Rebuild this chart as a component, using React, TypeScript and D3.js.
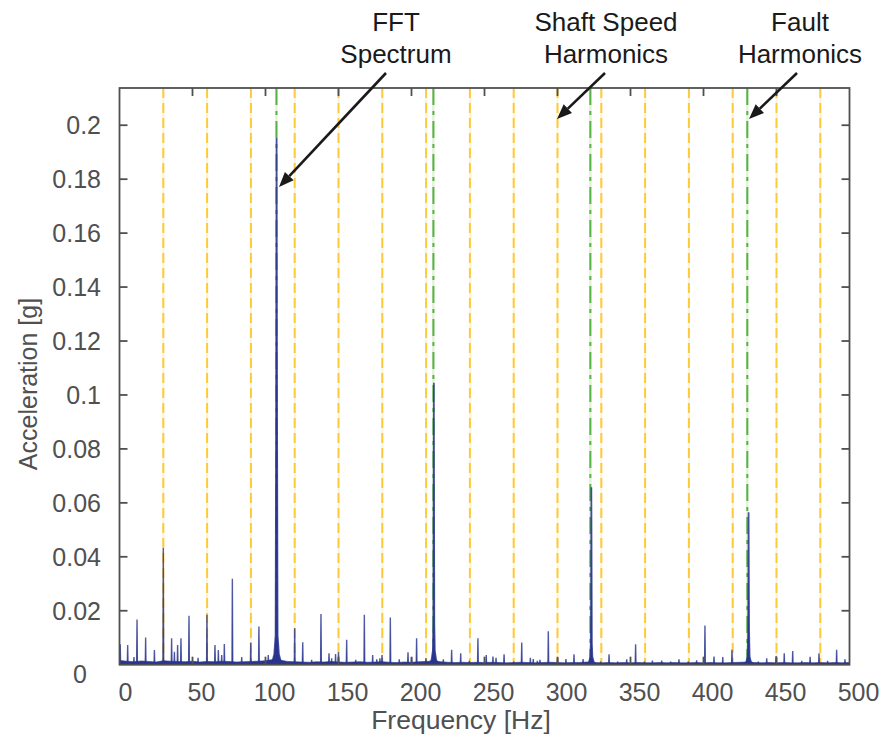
import React from "react";
import * as d3 from "d3";

// ---- data ----
const xTicks = [0, 50, 100, 150, 200, 250, 300, 350, 400, 450, 500];
const yTicks = [0, 0.02, 0.04, 0.06, 0.08, 0.1, 0.12, 0.14, 0.16, 0.18, 0.2];
const yTickLabels = ["0", "0.02", "0.04", "0.06", "0.08", "0.1", "0.12", "0.14", "0.16", "0.18", "0.2"];

const shaftHarmonicFreqs = [30, 60, 90, 120, 150, 180, 210, 240, 270, 300, 330, 360, 390, 420, 450, 480];
const faultHarmonicFreqs = [107.5, 215, 322.5, 430];

// dominant fault peaks
const faultPeakFreqs = [107.6, 215.3, 323.2, 430.9];
const faultPeakAmps = [0.1953, 0.1045, 0.0658, 0.0565];
const faultShoulderAmps = [0.091, 0.015, 0.008, 0.012];
const faultSkirtAmps = [0.011, 0.005, 0.003, 0.003];

// smaller spectral lines [Hz]
const peakFreqs = [
  0.5, 5.6, 9.9, 12.0, 17.9, 23.9, 30.0, 35.7, 37.6, 39.8, 42.1, 47.6, 53.8, 59.9, 65.4, 67.7, 70.0, 71.8,
  77.3, 83.7, 89.9, 95.5, 101.9, 120.0, 125.5, 131.6, 138.0, 143.5, 145.3, 148.0, 150.0, 155.6, 161.8,
  167.7, 173.4, 176.2, 178.4, 179.8, 185.5, 191.6, 197.6, 200.1, 203.5, 209.9, 221.8, 227.5, 233.7,
  239.6, 245.5, 251.2, 255.8, 257.9, 263.4, 270.0, 275.5, 281.4, 283.4, 286.2, 288.0, 293.7, 300.1,
  305.8, 311.3, 317.5, 329.5, 335.3, 341.2, 347.4, 353.5, 359.5, 365.0, 371.4, 377.5, 383.2, 389.5,
  395.3, 401.0, 407.2, 413.2, 419.5, 437.5, 443.3, 449.7, 455.3, 461.1, 467.3, 473.0, 479.1, 485.0,
  491.2, 496.9,
];
// their amplitudes [g]
const peakAmps = [
  0.0076, 0.0073, 0.0028, 0.0168, 0.0101, 0.0054, 0.0433, 0.0098, 0.0048, 0.0073, 0.0098, 0.0181, 0.0026,
  0.0185, 0.0073, 0.0054, 0.0036, 0.0077, 0.0319, 0.0028, 0.0082, 0.0142, 0.0036, 0.0135, 0.0083, 0.0018,
  0.0188, 0.0042, 0.0024, 0.004, 0.0046, 0.0092, 0.0018, 0.0185, 0.0036, 0.002, 0.0024, 0.0036, 0.0175,
  0.002, 0.0046, 0.0028, 0.0098, 0.0024, 0.002, 0.0055, 0.0042, 0.0014, 0.0098, 0.0036, 0.003, 0.0026,
  0.0039, 0.0012, 0.0082, 0.0026, 0.0021, 0.0014, 0.0018, 0.0124, 0.0026, 0.0021, 0.0039, 0.0021, 0.0012,
  0.0039, 0.0012, 0.002, 0.0076, 0.0012, 0.0015, 0.0015, 0.0012, 0.002, 0.0012, 0.0016, 0.0145, 0.003,
  0.0028, 0.0055, 0.0012, 0.0024, 0.0032, 0.0042, 0.0051, 0.0014, 0.0029, 0.0042, 0.0014, 0.0055, 0.002,
];

// noise floor, one value every 5 Hz from 0 to 500 Hz
const floorFreqs = [
  0, 5, 10, 15, 20, 25, 30, 35, 40, 45, 50, 55, 60, 65, 70, 75, 80, 85, 90, 95, 100, 105, 110, 115, 120, 125,
  130, 135, 140, 145, 150, 155, 160, 165, 170, 175, 180, 185, 190, 195, 200, 205, 210, 215, 220, 225, 230,
  235, 240, 245, 250, 255, 260, 265, 270, 275, 280, 285, 290, 295, 300, 305, 310, 315, 320, 325, 330, 335,
  340, 345, 350, 355, 360, 365, 370, 375, 380, 385, 390, 395, 400, 405, 410, 415, 420, 425, 430, 435, 440,
  445, 450, 455, 460, 465, 470, 475, 480, 485, 490, 495, 500,
];
const floorAmps = [
  0.0016, 0.0013, 0.0011, 0.0014, 0.0012, 0.001, 0.0015, 0.0013, 0.0012, 0.0011, 0.0013, 0.001, 0.0012,
  0.0011, 0.0013, 0.0012, 0.001, 0.0011, 0.0012, 0.0013, 0.0015, 0.0019, 0.0017, 0.0012, 0.0011, 0.001,
  0.0009, 0.0011, 0.001, 0.0012, 0.001, 0.0009, 0.001, 0.0011, 0.0009, 0.001, 0.0011, 0.0009, 0.0008,
  0.001, 0.0009, 0.0011, 0.0012, 0.0014, 0.0011, 0.0009, 0.0008, 0.0009, 0.0008, 0.0009, 0.0008, 0.0009,
  0.0008, 0.0007, 0.0008, 0.0009, 0.0008, 0.0007, 0.0008, 0.0009, 0.0008, 0.0007, 0.0008, 0.0008, 0.001,
  0.0008, 0.0007, 0.0008, 0.0007, 0.0008, 0.0007, 0.0008, 0.0007, 0.0007, 0.0008, 0.0007, 0.0008, 0.0007,
  0.0007, 0.0008, 0.0007, 0.0008, 0.0007, 0.0007, 0.0008, 0.0009, 0.001, 0.0008, 0.0007, 0.0008, 0.0007,
  0.0008, 0.0007, 0.0007, 0.0008, 0.0007, 0.0008, 0.0007, 0.0008, 0.0007, 0.0008,
];

const annotationLines = [
  ["FFT", "Spectrum"],
  ["Shaft Speed", "Harmonics"],
  ["Fault", "Harmonics"],
];

// ---- chart ----
const W = 885;
const H = 742;
const left = 119.5;
const right = 849.5;
const top = 88;
const bottom = 664.7;

const FONT = "'Liberation Sans', Arial, Helvetica, sans-serif";
const BLUE = "#28348f";
const AXIS = "#505050";

export default function App() {
  const x = d3.scaleLinear().domain([0, 500]).range([left, right]);
  const y = d3.scaleLinear().domain([0, 0.2138]).range([bottom, top]);

  const floorArea = d3
    .area<number>()
    .x((_, i) => x(floorFreqs[i]))
    .y0(y(0))
    .y1((d) => y(d))
    .curve(d3.curveLinear)(floorAmps) as string;

  const spike = (f: number, a: number, w: number) =>
    d3.line()([
      [x(f - w), y(0)],
      [x(f), y(a)],
      [x(f + w), y(0)],
    ]) as string;

  const faultShape = (i: number) => {
    const f = faultPeakFreqs[i];
    const pts: [number, number][] = [
      [x(f - 3.5), y(0)],
      [x(f - 1.6), y(faultSkirtAmps[i] * 0.35)],
      [x(f - 0.7), y(faultSkirtAmps[i])],
      [x(f - 0.35), y(faultShoulderAmps[i])],
      [x(f), y(faultPeakAmps[i])],
      [x(f + 0.35), y(faultShoulderAmps[i])],
      [x(f + 0.7), y(faultSkirtAmps[i])],
      [x(f + 1.6), y(faultSkirtAmps[i] * 0.35)],
      [x(f + 3.5), y(0)],
    ];
    return d3.line()(pts) as string;
  };

  // arrows: [tail, head] in data coordinates
  const arrowTails: [number, number][] = [
    [x.invert(386), y.invert(73)],
    [x.invert(605), y.invert(73)],
    [x.invert(797), y.invert(73)],
  ];
  const arrowHeads: [number, number][] = [
    [x.invert(279), y.invert(187)],
    [x.invert(557), y.invert(119)],
    [x.invert(749), y.invert(119)],
  ];
  const annotationCenters = [396, 606, 800];

  const arrow = (t: [number, number], h: [number, number], key: number) => {
    const x1 = x(t[0]);
    const y1 = y(t[1]);
    const x2 = x(h[0]);
    const y2 = y(h[1]);
    const ang = Math.atan2(y2 - y1, x2 - x1);
    const L = 15;
    const Wd = 6;
    const bx = x2 - L * Math.cos(ang);
    const by = y2 - L * Math.sin(ang);
    const px = -Math.sin(ang) * Wd;
    const py = Math.cos(ang) * Wd;
    return (
      <g key={key}>
        <line x1={x1} y1={y1} x2={bx} y2={by} stroke="#1a1a1a" strokeWidth={2.6} />
        <path d={`M${x2},${y2}L${bx + px},${by + py}L${bx - px},${by - py}Z`} fill="#1a1a1a" />
      </g>
    );
  };

  return (
    <svg
      width={W}
      height={H}
      viewBox={`0 0 ${W} ${H}`}
      style={{ position: "absolute", left: 0, top: 0, background: "#fff" }}
    >
      <rect x={0} y={0} width={W} height={H} fill="#fff" />

      {/* shaft speed harmonics */}
      {shaftHarmonicFreqs.map((f, i) => (
        <g key={"s" + i}>
          <line x1={x(f)} x2={x(f)} y1={top} y2={bottom} stroke="#fff5d6" strokeWidth={2} />
          <line
            x1={x(f)}
            x2={x(f)}
            y1={top}
            y2={bottom}
            stroke="#ffc93c"
            strokeWidth={2}
            strokeDasharray="10,5"
          />
        </g>
      ))}
      {/* fault harmonics */}
      {faultHarmonicFreqs.map((f, i) => (
        <g key={"f" + i}>
          <line x1={x(f)} x2={x(f)} y1={top} y2={bottom} stroke="#e4f1d8" strokeWidth={2.4} />
          <line
            x1={x(f)}
            x2={x(f)}
            y1={top}
            y2={bottom}
            stroke="#55b444"
            strokeWidth={2}
            strokeDasharray="17,6,4,6"
          />
        </g>
      ))}

      {/* spectrum */}
      <path d={floorArea} fill={BLUE} stroke={BLUE} strokeWidth={0.6} />
      {peakFreqs.map((f, i) => (
        <path key={"p" + i} d={spike(f, peakAmps[i], 0.25)} fill={BLUE} stroke={BLUE} strokeWidth={1.4} strokeOpacity={0.8} />
      ))}
      {faultPeakFreqs.map((f, i) => (
        <path key={"fp" + i} d={faultShape(i)} fill={BLUE} stroke={BLUE} strokeWidth={1.7} strokeOpacity={0.85} />
      ))}

      {/* axes box */}
      <rect x={left} y={top} width={right - left} height={bottom - top} fill="none" stroke={AXIS} strokeWidth={1.8} />
      {xTicks.slice(1, -1).map((v, i) => (
        <g key={"xt" + i}>
          <line x1={x(v)} x2={x(v)} y1={bottom} y2={bottom - 8} stroke={AXIS} strokeWidth={1.8} />
          <line x1={x(v)} x2={x(v)} y1={top} y2={top + 8} stroke={AXIS} strokeWidth={1.8} />
        </g>
      ))}
      {yTicks.slice(1).map((v, i) => (
        <g key={"yt" + i}>
          <line x1={left} x2={left + 8} y1={y(v)} y2={y(v)} stroke={AXIS} strokeWidth={1.8} />
          <line x1={right} x2={right - 8} y1={y(v)} y2={y(v)} stroke={AXIS} strokeWidth={1.8} />
        </g>
      ))}

      {/* tick labels */}
      {xTicks.map((v, i) => (
        <text
          key={"xl" + i}
          x={x(v) + (v === 0 ? 6 : 9)}
          y={701}
          textAnchor="middle"
          fontFamily={FONT}
          fontSize={25}
          fill={AXIS}
        >
          {v}
        </text>
      ))}
      {yTicks.map((v, i) =>
        v === 0 ? (
          <text key={"yl" + i} x={80} y={y(v) + 18} textAnchor="middle" fontFamily={FONT} fontSize={25} fill={AXIS}>
            {yTickLabels[i]}
          </text>
        ) : (
          <text key={"yl" + i} x={101} y={y(v) + 9} textAnchor="end" fontFamily={FONT} fontSize={25} fill={AXIS}>
            {yTickLabels[i]}
          </text>
        )
      )}

      {/* axis titles */}
      <text x={461} y={729} textAnchor="middle" fontFamily={FONT} fontSize={26.5} fill={AXIS}>
        Frequency [Hz]
      </text>
      <text
        transform={`translate(37,384) rotate(-90)`}
        textAnchor="middle"
        fontFamily={FONT}
        fontSize={25}
        fill={AXIS}
      >
        Acceleration [g]
      </text>

      {/* annotations */}
      {annotationLines.map((lines, i) => (
        <g key={"a" + i}>
          {lines.map((s, j) => (
            <text
              key={j}
              x={annotationCenters[i]}
              y={31 + j * 32}
              textAnchor="middle"
              fontFamily={FONT}
              fontSize={26}
              fill="#1a1a1a"
            >
              {s}
            </text>
          ))}
        </g>
      ))}
      {arrowTails.map((t, i) => arrow(t, arrowHeads[i], i))}
    </svg>
  );
}
